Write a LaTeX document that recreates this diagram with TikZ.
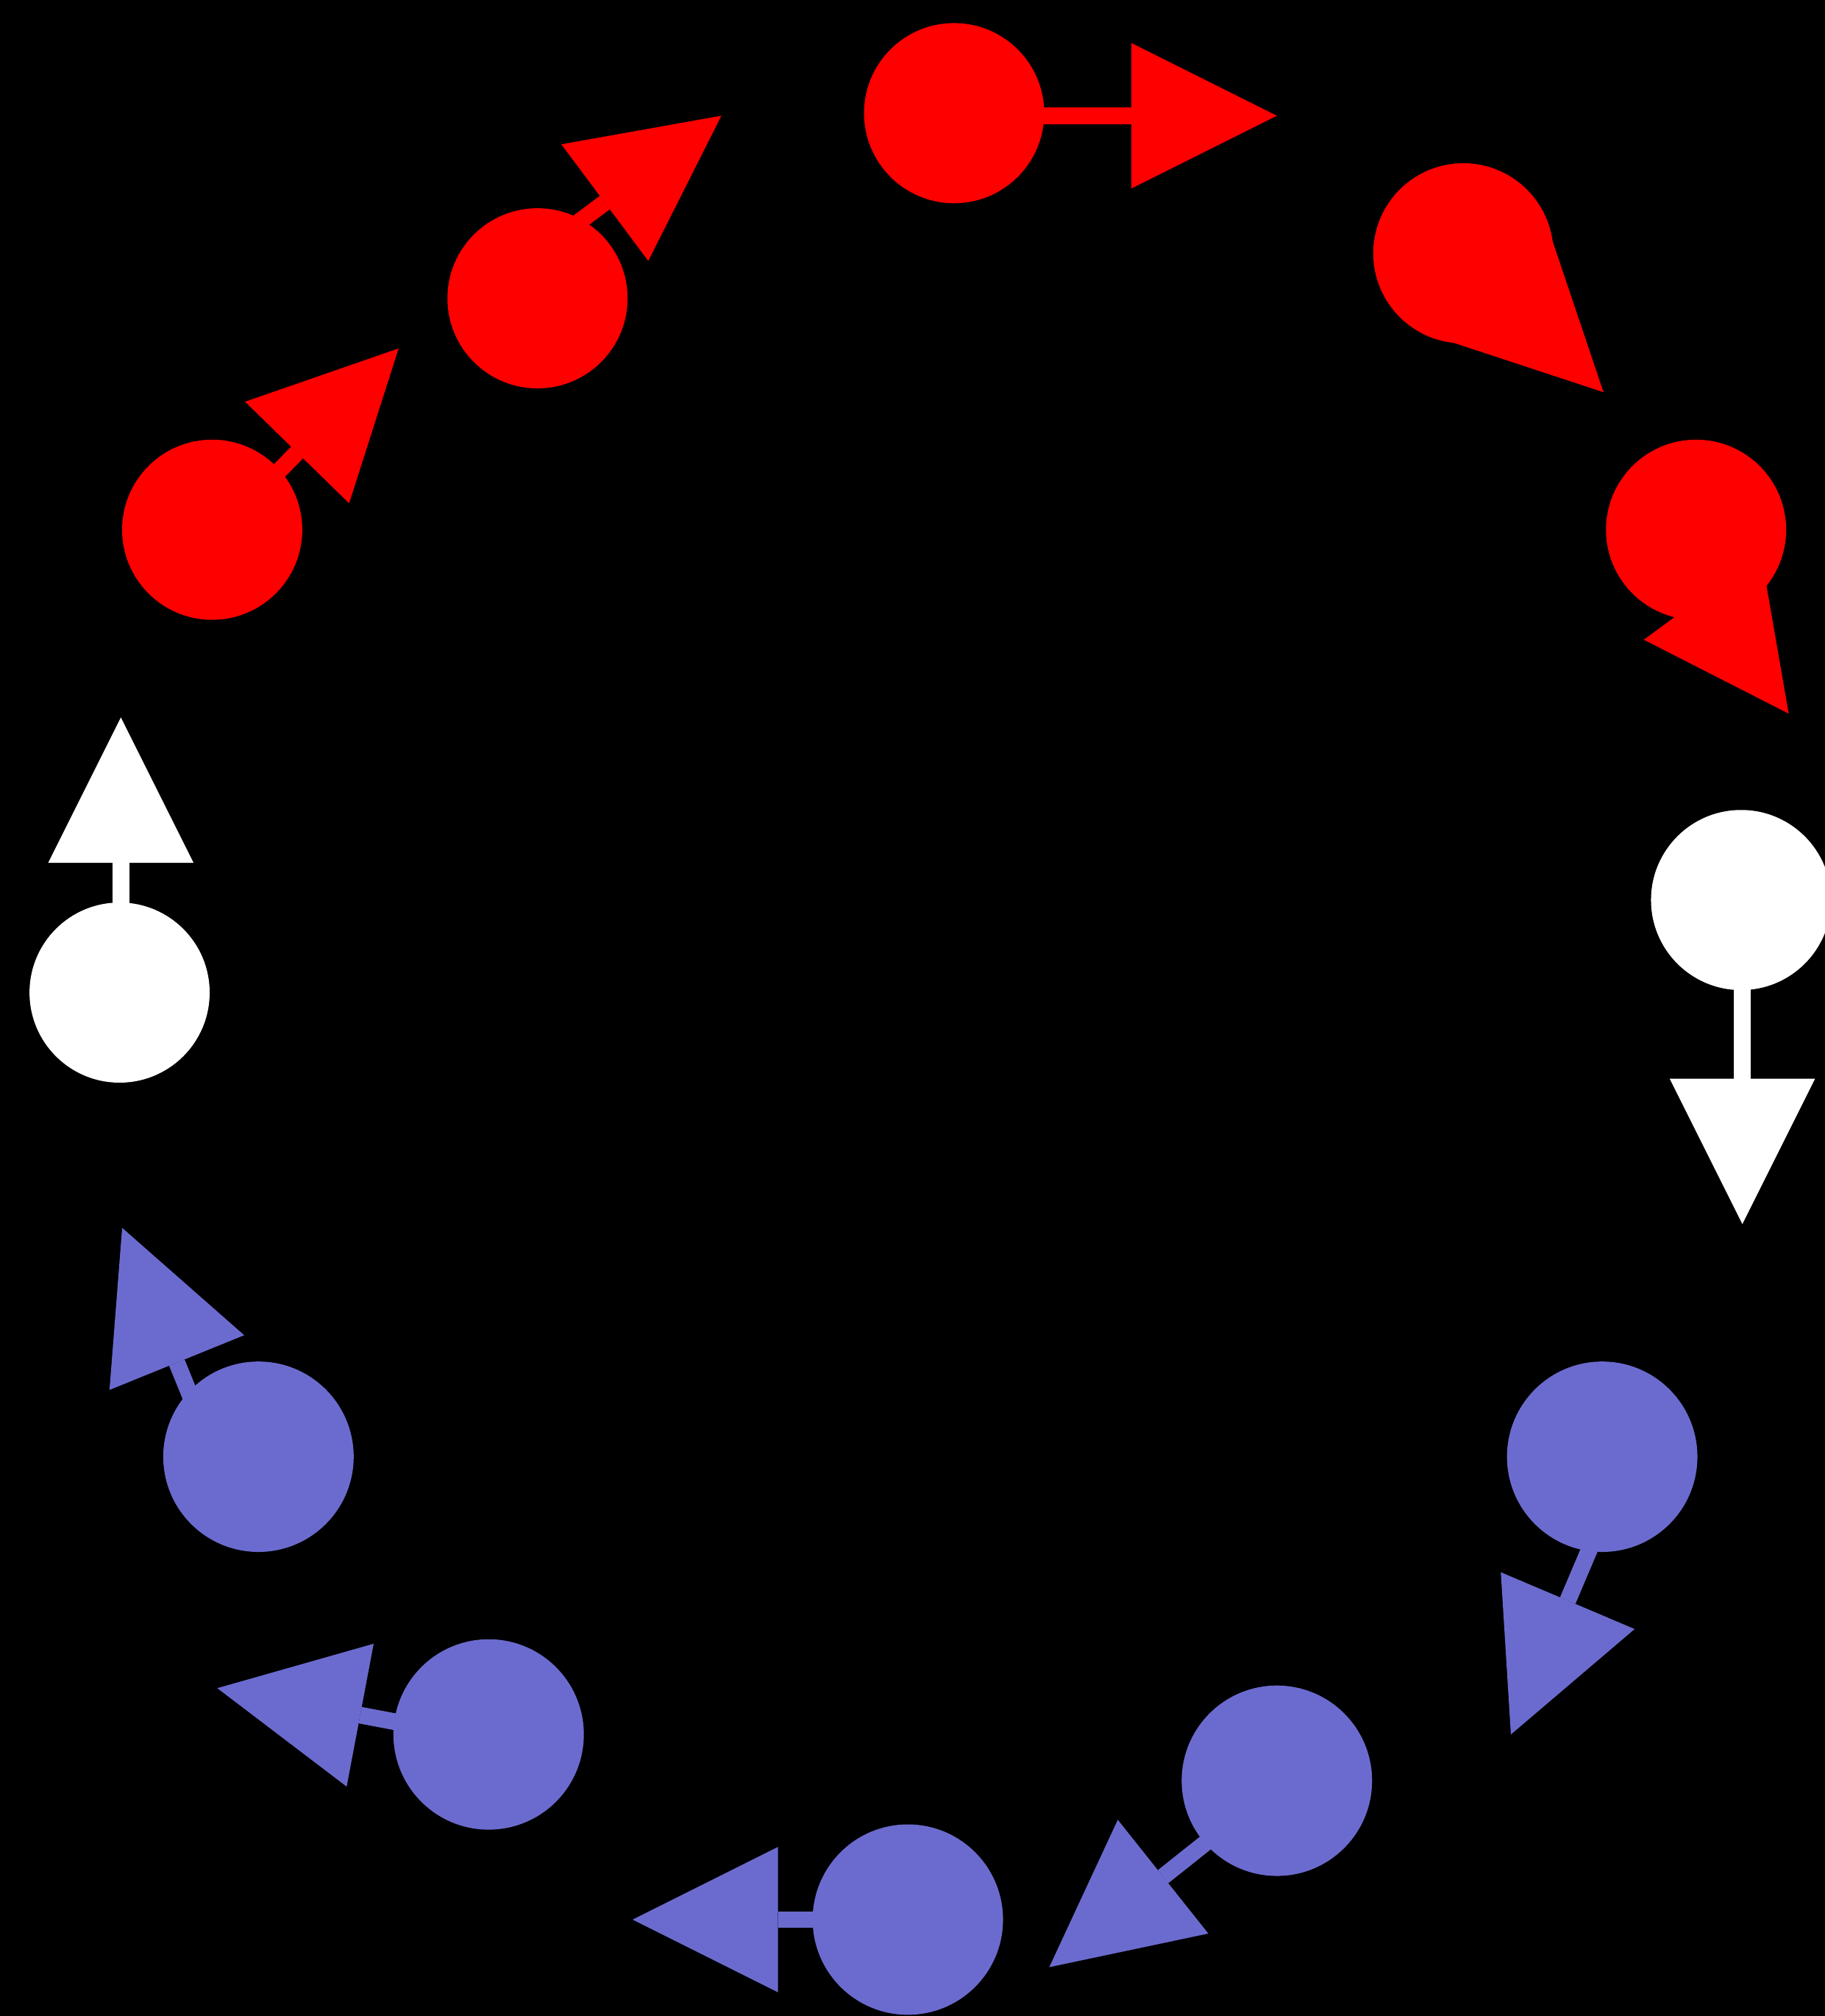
\documentclass[tikz,border=0pt]{standalone}
\usetikzlibrary{shapes.geometric,calc}
\definecolor{SpinRed}{RGB}{255,0,0}
\definecolor{SpinBlue}{RGB}{107,107,207}
\definecolor{SpinWhite}{RGB}{255,255,255}
\tikzset{
  spin/.style={circle,inner sep=0pt,outer sep=0pt,draw=none},
  redspin/.style={spin,fill=SpinRed,minimum size=1.40cm},
  whitespin/.style={spin,fill=SpinWhite,minimum size=1.40cm},
  bluespin/.style={spin,fill=SpinBlue,minimum size=1.48cm},
  head/.style={isosceles triangle,isosceles triangle apex angle=53.13,
    minimum width=1.13cm,minimum height=1.13cm,inner sep=0pt,outer sep=0pt,
    draw=none,anchor=apex},
  redhead/.style={head,fill=SpinRed},
  whitehead/.style={head,fill=SpinWhite},
  bluehead/.style={head,fill=SpinBlue},
  redstem/.style={line width=0.13cm,draw=SpinRed},
  whitestem/.style={line width=0.13cm,draw=SpinWhite},
  bluestem/.style={line width=0.13cm,draw=SpinBlue}
}
\begin{document}
\begin{tikzpicture}[x=0.01cm,y=-0.01cm]
  \fill[black] (0,0) rectangle (1419,1568);
  \useasboundingbox (0,0) rectangle (1419,1568);
  % red spins
  \node[redspin] (r1) at (165,412) {};
  \node[redhead,rotate=45.7] (r1head) at (310,271) {};
  \draw[redstem] (r1head.lower side) -- ($(r1head.lower side)!-1!(r1head.apex)$);
  \node[redspin] (r2) at (418,232) {};
  \node[redhead,rotate=36.7] (r2head) at (561,90) {};
  \draw[redstem] (r2head.lower side) -- ($(r2head.lower side)!-1!(r2head.apex)$);
  \node[redspin] (r3) at (742,88) {};
  \node[redhead,rotate=0] (r3head) at (993,90) {};
  \draw[redstem] (r3head.lower side) -- ($(r3head.lower side)!-1!(r3head.apex)$);
  \node[redspin] (r4) at (1138,197) {};
  \node[redhead,rotate=-44.8] (r4head) at (1247,305) {};
  \node[redspin] (r5) at (1319,412) {};
  \node[redhead,rotate=-53.6] (r5head) at (1391,555) {};
  % white spins
  \node[whitespin] (w1) at (1354,700) {};
  \node[whitehead,rotate=-90] (w1head) at (1355,952) {};
  \draw[whitestem] (w1head.lower side) -- ($(w1head.lower side)!-1!(w1head.apex)$);
  \node[whitespin] (w2) at (93,772) {};
  \node[whitehead,rotate=90] (w2head) at (94,558) {};
  \draw[whitestem] (w2head.lower side) -- ($(w2head.lower side)!-1!(w2head.apex)$);
  % blue spins
  \node[bluespin] (b1) at (1246,1133) {};
  \node[bluehead,rotate=-113] (b1head) at (1175,1349) {};
  \draw[bluestem] (b1head.lower side) -- ($(b1head.lower side)!-1!(b1head.apex)$);
  \node[bluespin] (b2) at (993,1385) {};
  \node[bluehead,rotate=-141.5] (b2head) at (816,1530) {};
  \draw[bluestem] (b2head.lower side) -- ($(b2head.lower side)!-1!(b2head.apex)$);
  \node[bluespin] (b3) at (706,1493) {};
  \node[bluehead,rotate=180] (b3head) at (492,1493) {};
  \draw[bluestem] (b3head.lower side) -- ($(b3head.lower side)!-1!(b3head.apex)$);
  \node[bluespin] (b4) at (380,1349) {};
  \node[bluehead,rotate=169.3] (b4head) at (169,1313) {};
  \draw[bluestem] (b4head.lower side) -- ($(b4head.lower side)!-1!(b4head.apex)$);
  \node[bluespin] (b5) at (201,1133) {};
  \node[bluehead,rotate=112.1] (b5head) at (95,955) {};
  \draw[bluestem] (b5head.lower side) -- ($(b5head.lower side)!-1!(b5head.apex)$);
\end{tikzpicture}
\end{document}
